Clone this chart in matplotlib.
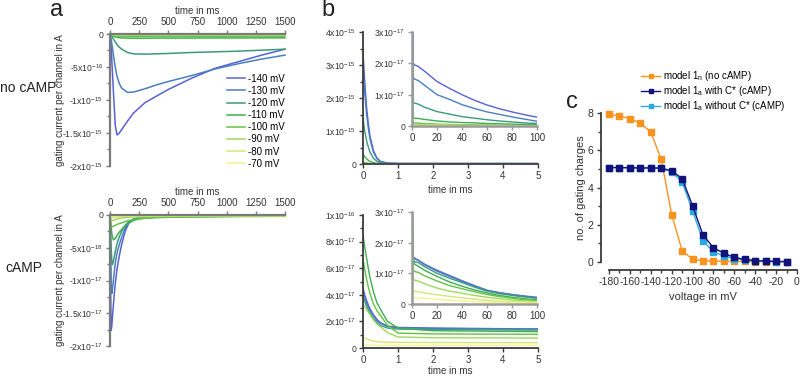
import numpy as np
import matplotlib
matplotlib.use('Agg')
import matplotlib.pyplot as plt

plt.rcParams['font.family'] = ['Liberation Sans', 'DejaVu Sans']
plt.rcParams['mathtext.fontset'] = 'custom'
plt.rcParams['mathtext.rm'] = 'Liberation Sans'
plt.rcParams['mathtext.default'] = 'regular'
plt.rcParams['axes.unicode_minus'] = False

# voltage steps and colours
volts = [-140, -130, -120, -110, -100, -90, -80, -70]
vcolors = ['#5563d6', '#4a7fbf', '#3a9a7c', '#3fae52', '#62c341', '#9fd95c', '#d3e872', '#f4f48e']

# panel a, no cAMP (current in 1e-16 A)
t_a_top = [0, 10, 20, 30, 45, 60, 80, 100, 150, 200, 300, 400, 500, 700, 900, 1100, 1300, 1500]
a_top = [
    [0, -2.0, -5.5, -9.0, -13.8, -15.3, -15.0, -14.5, -13.2, -12.0, -10.4, -9.4, -8.4, -6.7, -5.2, -4.2, -3.2, -2.3],
    [0, -0.8, -2.0, -3.3, -5.0, -6.4, -7.5, -8.2, -8.85, -8.8, -8.3, -7.7, -7.2, -6.3, -5.3, -4.5, -3.8, -3.2],
    [0, -0.2, -0.5, -0.8, -1.2, -1.6, -2.0, -2.3, -2.8, -3.0, -3.05, -3.0, -2.95, -2.8, -2.7, -2.6, -2.45, -2.3],
    [0, -0.15, -0.25, -0.35, -0.45, -0.5, -0.55, -0.6, -0.62, -0.63, -0.63, -0.62, -0.62, -0.61, -0.6, -0.6, -0.59, -0.58],
    [0, -0.1, -0.18, -0.24, -0.28, -0.3, -0.32, -0.33, -0.34, -0.35, -0.35, -0.35, -0.35, -0.34, -0.34, -0.34, -0.33, -0.33],
    [0, -0.06, -0.1, -0.13, -0.15, -0.16, -0.17, -0.18, -0.18, -0.18, -0.18, -0.18, -0.18, -0.18, -0.17, -0.17, -0.17, -0.17],
    [0, -0.03, -0.05, -0.06, -0.07, -0.08, -0.08, -0.08, -0.08, -0.08, -0.08, -0.08, -0.08, -0.08, -0.08, -0.08, -0.08, -0.08],
    [0, -0.01, -0.02, -0.02, -0.03, -0.03, -0.03, -0.03, -0.03, -0.03, -0.03, -0.03, -0.03, -0.03, -0.03, -0.03, -0.03, -0.03],
]

# panel a, cAMP (current in 1e-18 A)
t_a_bot = [0, 5, 10, 15, 20, 30, 45, 60, 80, 100, 130, 160, 200, 250, 300, 400, 600, 1000, 1500]
a_bot = [
    [0, -11, -17.6, -17.0, -15.8, -13.5, -10.5, -8.3, -6.2, -4.5, -2.5, -1.3, -0.7, -0.4, -0.3, -0.25, -0.2, -0.15, -0.1],
    [0, -5, -10.5, -12.0, -11.5, -9.8, -7.4, -5.8, -4.5, -3.4, -2.0, -1.1, -0.6, -0.4, -0.3, -0.25, -0.2, -0.15, -0.1],
    [0, -2.5, -5.0, -6.8, -7.6, -7.0, -5.6, -4.4, -3.3, -2.5, -1.6, -1.0, -0.7, -0.5, -0.4, -0.3, -0.25, -0.2, -0.15],
    [0, -1.0, -2.0, -2.8, -3.3, -3.8, -3.6, -3.1, -2.6, -2.2, -1.6, -1.2, -0.85, -0.6, -0.5, -0.4, -0.3, -0.2, -0.15],
    [0, -1.0, -1.6, -1.8, -1.8, -1.7, -1.6, -1.45, -1.3, -1.2, -1.0, -0.85, -0.7, -0.55, -0.45, -0.35, -0.3, -0.25, -0.2],
    [0, -0.6, -0.9, -0.9, -0.85, -0.8, -0.7, -0.6, -0.5, -0.45, -0.38, -0.33, -0.3, -0.27, -0.25, -0.22, -0.2, -0.17, -0.15],
    [0, -0.3, -0.45, -0.45, -0.42, -0.38, -0.33, -0.3, -0.27, -0.25, -0.22, -0.2, -0.18, -0.16, -0.15, -0.13, -0.12, -0.11, -0.1],
    [0, -0.1, -0.15, -0.15, -0.14, -0.13, -0.12, -0.11, -0.1, -0.1, -0.09, -0.08, -0.08, -0.07, -0.07, -0.06, -0.06, -0.05, -0.05],
]

# panel b, off currents (1e-17 A), shared time base in ms
t_b = [0, 0.05, 0.1, 0.15, 0.2, 0.3, 0.4, 0.5, 0.7, 1, 2, 5, 10, 20, 30, 40, 50, 60, 70, 80, 90, 100]
b_top = [
    [340, 250, 175, 125, 85, 40, 18, 8, 3, 2.0, 1.95, 1.9, 1.75, 1.42, 1.2, 1.0, 0.82, 0.67, 0.55, 0.45, 0.36, 0.28],
    [290, 215, 152, 110, 75, 35, 16, 7, 2.5, 1.55, 1.5, 1.45, 1.3, 1.0, 0.85, 0.68, 0.56, 0.45, 0.37, 0.29, 0.22, 0.15],
    [138, 100, 72, 52, 36, 17, 8, 4, 1.5, 0.75, 0.73, 0.7, 0.6, 0.46, 0.38, 0.3, 0.25, 0.2, 0.16, 0.13, 0.1, 0.08],
    [30, 22, 16, 11, 8, 4, 2, 1, 0.5, 0.27, 0.25, 0.24, 0.21, 0.16, 0.13, 0.11, 0.1, 0.08, 0.07, 0.06, 0.05, 0.04],
    [6, 4.5, 3.2, 2.3, 1.6, 0.8, 0.4, 0.2, 0.12, 0.1, 0.1, 0.09, 0.08, 0.06, 0.05, 0.04, 0.035, 0.03, 0.025, 0.02, 0.02, 0.02],
    [2, 1.5, 1.1, 0.8, 0.55, 0.3, 0.15, 0.09, 0.07, 0.06, 0.06, 0.05, 0.05, 0.04, 0.03, 0.03, 0.02, 0.02, 0.02, 0.01, 0.01, 0.01],
    [0.8, 0.6, 0.45, 0.33, 0.25, 0.13, 0.07, 0.04, 0.03, 0.03, 0.02, 0.02, 0.02, 0.02, 0.02, 0.01, 0.01, 0.01, 0.01, 0.01, 0.01, 0.01],
    [0.3, 0.22, 0.16, 0.12, 0.09, 0.05, 0.03, 0.02, 0.02, 0.01, 0.01, 0.01, 0.01, 0.01, 0.01, 0.01, 0.01, 0.01, 0.01, 0.01, 0.01, 0.01],
]
b_bot = [
    [4.5, 4.0, 3.6, 3.25, 2.95, 2.5, 2.15, 1.9, 1.65, 1.55, 1.5, 1.43, 1.3, 1.1, 0.93, 0.76, 0.6, 0.45, 0.37, 0.31, 0.26, 0.22],
    [4.2, 3.75, 3.4, 3.1, 2.8, 2.4, 2.05, 1.85, 1.62, 1.52, 1.47, 1.42, 1.28, 1.07, 0.9, 0.74, 0.58, 0.44, 0.36, 0.3, 0.25, 0.2],
    [3.9, 3.5, 3.15, 2.85, 2.6, 2.2, 1.9, 1.7, 1.5, 1.42, 1.38, 1.35, 1.22, 1.0, 0.84, 0.7, 0.55, 0.42, 0.34, 0.28, 0.23, 0.18],
    [8.5, 7.6, 6.8, 6.0, 5.3, 4.2, 3.4, 2.9, 2.0, 1.5, 1.3, 1.23, 1.1, 0.9, 0.72, 0.58, 0.46, 0.36, 0.28, 0.22, 0.17, 0.13],
    [6.7, 5.9, 5.2, 4.6, 4.1, 3.3, 2.8, 2.45, 1.7, 1.12, 1.06, 1.03, 0.92, 0.75, 0.6, 0.5, 0.4, 0.31, 0.24, 0.19, 0.14, 0.11],
    [3.3, 3.1, 2.9, 2.7, 2.5, 2.1, 1.8, 1.6, 1.15, 0.83, 0.77, 0.75, 0.66, 0.52, 0.42, 0.35, 0.28, 0.22, 0.17, 0.13, 0.1, 0.08],
    [0.8, 0.75, 0.7, 0.65, 0.6, 0.53, 0.48, 0.45, 0.43, 0.42, 0.41, 0.4, 0.36, 0.3, 0.25, 0.2, 0.16, 0.12, 0.09, 0.07, 0.06, 0.05],
    [0.25, 0.24, 0.23, 0.22, 0.22, 0.21, 0.21, 0.2, 0.2, 0.2, 0.2, 0.2, 0.18, 0.15, 0.12, 0.1, 0.08, 0.06, 0.05, 0.04, 0.03, 0.03],
]

# panel c, gating charges
volt_c = [-180, -170, -160, -150, -140, -130, -120, -110, -100, -90, -80, -70, -60, -50, -40, -30, -20, -10]
q_no = [7.92, 7.84, 7.7, 7.46, 6.98, 5.52, 2.55, 0.61, 0.14, 0.07, 0.05, 0.04, 0.03, 0.03, 0.02, 0.02, 0.02, 0.02]
q_with = [5.07, 5.07, 5.06, 5.05, 5.05, 5.04, 4.89, 4.48, 3.02, 1.45, 0.77, 0.46, 0.25, 0.14, 0.08, 0.05, 0.03, 0.02]
q_without = [5.07, 5.07, 5.06, 5.05, 5.05, 5.03, 4.85, 4.30, 2.75, 1.14, 0.55, 0.32, 0.18, 0.10, 0.06, 0.04, 0.02, 0.02]

W, H = 800.0, 376.0
spc = '#3a3a3a'
grey = '#9a9a9a'


def box(x0, y0, x1, y1):
    # pixel box -> figure fraction
    return [x0 / W, 1 - y1 / H, (x1 - x0) / W, (y1 - y0) / H]


def sci(m, e):
    return r'%sx10$^{%d}$' % (m, e)


def style(ax, col=spc, lw=1.3):
    for s in ['top', 'right', 'bottom', 'left']:
        ax.spines[s].set_color(col)
        ax.spines[s].set_linewidth(lw)
    ax.tick_params(which='both', colors=col, labelcolor='#333333', labelsize=7, width=1, pad=2)
    ax.tick_params(which='major', length=3)
    ax.tick_params(which='minor', length=2)
    ax.tick_params(axis='y', labelsize=6.2)
    ax.patch.set_alpha(0)


fig = plt.figure(figsize=(8, 3.76), dpi=100)

# ---- panel a ----
for row, (tt, data, scale, ytk, ylab, yminor, ytop, ybot) in enumerate([
        (t_a_top, a_top, 1e-16, [0, -5e-16, -1e-15, -1.5e-15, -2e-15],
         ['0', sci('-5', -16), sci('-1', -15), sci('-1.5', -15), sci('-2', -15)],
         np.arange(-1.75e-15, 0, 2.5e-16), 34, 166),
        (t_a_bot, a_bot, 1e-18, [0, -5e-18, -1e-17, -1.5e-17, -2e-17],
         ['0', sci('-5', -18), sci('-1', -17), sci('-1.5', -17), sci('-2', -17)],
         np.arange(-1.75e-17, 0, 2.5e-18), 215, 346)]):
    ax = fig.add_axes(box(110, ytop, 285, ybot))
    for v, c, y in zip(volts, vcolors, data):
        ax.plot(tt, np.array(y) * scale, color=c, lw=1.1, label='%d mV' % v, clip_on=False)
    ax.set_xlim(0, 1500)
    ax.set_ylim(ytk[-1], 0)
    style(ax, col='#7a7a7a', lw=1.6)
    ax.spines['right'].set_visible(False)
    ax.spines['bottom'].set_visible(False)
    ax.xaxis.tick_top()
    ax.xaxis.set_label_position('top')
    ax.set_xticks([0, 250, 500, 750, 1000, 1250, 1500])
    ax.set_yticks(ytk, ylab)
    ax.set_yticks(yminor, minor=True)
    ax.set_xlabel('time in ms', fontsize=7, color='#333333')
    ax.xaxis.set_label_coords(0.5, 1.15)
    ax.set_ylabel('gating current per channel in A', fontsize=7, color='#333333')
    ax.yaxis.set_label_coords(-0.255, 0.5)
    if row == 0:
        ax.legend(loc='lower right', bbox_to_anchor=(1.0, -0.02), frameon=False, fontsize=7,
                  handlelength=1.9, handletextpad=0.3, labelspacing=0.22, borderpad=0, borderaxespad=0)

fig.text(0 / W, 1 - 88 / H, 'no cAMP', fontsize=10, va='center', ha='left', color='#222222')
fig.text(5 / W, 1 - 268 / H, 'cAMP', fontsize=10, va='center', ha='left', color='#222222')
fig.text(57 / W, 1 - 10 / H, 'a', fontsize=17, va='center', ha='center', color='#222222')
fig.text(328 / W, 1 - 10 / H, 'b', fontsize=17, va='center', ha='center', color='#222222')
fig.text(572 / W, 1 - 102 / H, 'c', fontsize=17, va='center', ha='center', color='#222222')

# ---- panel b ----
for data, ytop, ybot, ymax, ytk, ylab, yminor, itop, ibot, xl in [
        (b_top, 32, 164, 4e-15, [0, 1e-15, 2e-15, 3e-15, 4e-15],
         ['0', sci('1', -15), sci('2', -15), sci('3', -15), sci('4', -15)],
         np.arange(5e-16, 4e-15, 1e-15), 32, 126, -0.16),
        (b_bot, 215, 348, 1e-16, [0, 2e-17, 4e-17, 6e-17, 8e-17, 1e-16],
         ['0', sci('2', -17), sci('4', -17), sci('6', -17), sci('8', -17), sci('1', -16)],
         np.arange(1e-17, 1e-16, 2e-17), 212, 304, -0.135)]:
    ax = fig.add_axes(box(363, ytop, 538, ybot))
    for c, y in zip(vcolors, data):
        ax.plot(t_b, np.array(y) * 1e-17, color=c, lw=1.0)
    ax.set_xlim(0, 5)
    ax.set_ylim(0, ymax)
    style(ax)
    ax.spines['right'].set_visible(False)
    ax.spines['top'].set_visible(False)
    ax.set_xticks([0, 1, 2, 3, 4, 5])
    ax.set_yticks(ytk, ylab)
    ax.set_yticks(yminor, minor=True)
    ax.set_xlabel('time in ms', fontsize=7, color='#333333')
    ax.xaxis.set_label_coords(0.5, xl)

    ins = fig.add_axes(box(412, itop, 537, ibot))
    for c, y in zip(vcolors, data):
        ins.plot(t_b, np.array(y) * 1e-17, color=c, lw=1.0)
    ins.set_xlim(0, 100)
    ins.set_ylim(0, 3e-17)
    style(ins, col=grey, lw=1.8)
    ins.spines['right'].set_visible(False)
    ins.spines['top'].set_visible(False)
    ins.set_xticks([0, 20, 40, 60, 80, 100])
    ins.set_yticks([0, 1e-17, 2e-17, 3e-17], ['0', sci('1', -17), sci('2', -17), sci('3', -17)])

# ---- panel c ----
ax = fig.add_axes(box(609, 113, 797, 262))
ax.plot(volt_c, q_no, '-s', color='#f7931e', ms=4, lw=1, clip_on=False, zorder=3,
        label=r'model 1$_{n}$ (no cAMP)')
ax.plot(volt_c, q_without, '-s', color='#29abe2', ms=4, lw=1, clip_on=False, zorder=4,
        label=r'model 1$_{a}$ without C* (cAMP)')
ax.plot(volt_c, q_with, '-s', color='#12127a', ms=4, lw=1, clip_on=False, zorder=5,
        label=r'model 1$_{a}$ with C* (cAMP)')
ax.set_xlim(-180, 0)
ax.set_ylim(0, 8)
style(ax)
ax.spines['right'].set_visible(False)
ax.spines['top'].set_visible(False)
ax.spines['left'].set_position(('outward', 6))
ax.spines['bottom'].set_position(('outward', 6))
ax.set_xticks(range(-180, 1, 20))
ax.set_xticks(range(-170, 0, 20), minor=True)
ax.set_yticks([0, 2, 4, 6, 8])
ax.set_yticks([1, 3, 5, 7], minor=True)
ax.tick_params(labelsize=7.5)
ax.set_xlabel('voltage in mV', fontsize=8, color='#333333')
ax.xaxis.set_label_coords(0.5, -0.2)
ax.set_ylabel('no. of gating charges', fontsize=8, color='#333333')
ax.yaxis.set_label_coords(-0.125, 0.5)
h, lab = ax.get_legend_handles_labels()
ax.legend([h[0], h[2], h[1]], [lab[0], lab[2], lab[1]], loc='upper left',
          bbox_to_anchor=(641 / W, 1 - 69 / H), bbox_transform=fig.transFigure,
          frameon=False, fontsize=7, handlelength=2.0, handletextpad=0.3, labelspacing=0.12,
          borderpad=0, borderaxespad=0, markerscale=0.8)

fig.savefig('out.png', dpi=100)
